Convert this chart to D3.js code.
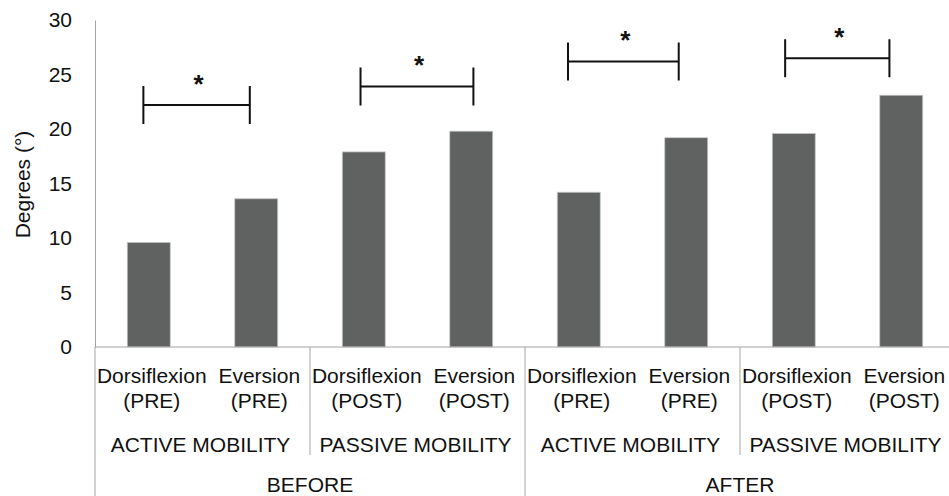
<!DOCTYPE html>
<html>
<head>
<meta charset="utf-8">
<script src="https://cdn.jsdelivr.net/npm/d3@7"></script>
<style>
  html, body { margin: 0; padding: 0; background: #fff; }
  svg { display: block; font-family: "Liberation Sans", Arial, sans-serif; }
</style>
</head>
<body>
<svg id="chart" width="949" height="496"></svg>
<script>
// Range of motion (degrees), one bar per measurement
const measures  = ["Dorsiflexion", "Eversion", "Dorsiflexion", "Eversion", "Dorsiflexion", "Eversion", "Dorsiflexion", "Eversion"];
const phases    = ["(PRE)", "(PRE)", "(POST)", "(POST)", "(PRE)", "(PRE)", "(POST)", "(POST)"];
const mobility  = ["ACTIVE MOBILITY", "PASSIVE MOBILITY", "ACTIVE MOBILITY", "PASSIVE MOBILITY"];
const periods   = ["BEFORE", "AFTER"];
const values    = [9.6, 13.6, 17.9, 19.8, 14.2, 19.2, 19.6, 23.1];
const yTicks    = [0, 5, 10, 15, 20, 25, 30];

// Significance brackets: span in bar-slot units and height in degrees
const sigFrom   = [0.45, 2.47, 4.40, 6.42];
const sigTo     = [1.44, 3.52, 5.43, 7.39];
const sigLevel  = [22.2, 23.9, 26.2, 26.5];
const sigMark   = ["*", "*", "*", "*"];

const svg = d3.select("#chart");
const margin = { left: 95, right: -6, top: 20, bottom: 149 };
const W = 949, H = 496;
const x0 = margin.left, x1 = W - margin.right;
const yBase = H - margin.bottom;
const fontSize = 21;

const keys = values.map((_, i) => i);
const x = d3.scaleBand().domain(keys).range([x0, x1]).paddingInner(0.6).paddingOuter(0.3);
const slot = d3.scaleLinear().domain([0, values.length]).range([x0, x1]);
const y = d3.scaleLinear().domain([0, 30]).range([yBase, margin.top]);

const axisColor = "#a6a6a6";
const textColor = "#111";

// Y axis (labels only, no tick marks)
const yAxis = d3.axisLeft(y).tickValues(yTicks).tickSize(0).tickPadding(23);
const gy = svg.append("g").attr("transform", `translate(${x0},0)`).call(yAxis);
gy.select(".domain").attr("stroke", axisColor).attr("stroke-width", 1);
gy.selectAll("text").attr("font-size", fontSize).attr("fill", textColor)
  .attr("font-family", "\"Liberation Sans\", Arial, sans-serif");

svg.append("text")
  .attr("transform", `translate(30,${(y(0) + y(30)) / 2 + 1}) rotate(-90)`)
  .attr("text-anchor", "middle")
  .attr("font-size", fontSize)
  .attr("fill", textColor)
  .text("Degrees (°)");

// Bars
svg.append("g").selectAll("rect").data(values).join("rect")
  .attr("x", (d, i) => x(i))
  .attr("y", d => y(d))
  .attr("width", x.bandwidth())
  .attr("height", d => y(0) - y(d))
  .attr("fill", "#606261")
  .attr("stroke", "#c9c9c9")
  .attr("stroke-width", 0.8);

// X axis baseline
svg.append("line")
  .attr("x1", x0).attr("x2", x1)
  .attr("y1", yBase).attr("y2", yBase)
  .attr("stroke", axisColor).attr("stroke-width", 1.2);

// Multi-level category separators
const perGroup = values.length / mobility.length;
const perPeriod = values.length / periods.length;
const seps = d3.range(0, values.length + 1, perGroup).map(i => ({
  i, full: i % perPeriod === 0
}));
svg.append("g").selectAll("line").data(seps).join("line")
  .attr("x1", d => slot(d.i)).attr("x2", d => slot(d.i))
  .attr("y1", yBase)
  .attr("y2", d => d.full ? H : yBase + 108)
  .attr("stroke", axisColor).attr("stroke-width", 1);

// Bar labels (two lines)
const lab = svg.append("g").attr("fill", textColor).attr("font-size", fontSize).attr("text-anchor", "middle");
lab.selectAll("text.m").data(measures).join("text").attr("class", "m")
  .attr("x", (d, i) => x(i) + x.bandwidth() / 2 + 3)
  .attr("y", yBase + 36)
  .text(d => d);
lab.selectAll("text.p").data(phases).join("text").attr("class", "p")
  .attr("x", (d, i) => x(i) + x.bandwidth() / 2 + 3)
  .attr("y", yBase + 61)
  .text(d => d);
lab.selectAll("text.g").data(mobility).join("text").attr("class", "g")
  .attr("x", (d, i) => slot(i * perGroup + perGroup / 2) - 2)
  .attr("y", yBase + 105)
  .text(d => d);
lab.selectAll("text.r").data(periods).join("text").attr("class", "r")
  .attr("x", (d, i) => slot(i * perPeriod + perPeriod / 2))
  .attr("y", yBase + 145)
  .text(d => d);

// Significance brackets
const sig = sigLevel.map((v, i) => ({ a: slot(sigFrom[i]), b: slot(sigTo[i]), y: y(v), mark: sigMark[i] }));
const gs = svg.append("g").attr("stroke", "#111").attr("stroke-width", 2).attr("fill", "none");
gs.selectAll("path").data(sig).join("path")
  .attr("d", d => `M${d.a},${d.y - 19}V${d.y + 19}M${d.a},${d.y}H${d.b}M${d.b},${d.y - 19}V${d.y + 19}`);
svg.append("g").selectAll("text").data(sig).join("text")
  .attr("x", d => (d.a + d.b) / 2 + 2)
  .attr("y", d => d.y - 12)
  .attr("text-anchor", "middle")
  .attr("font-size", 26)
  .attr("font-weight", "bold")
  .attr("fill", "#111")
  .text(d => d.mark);
</script>
</body>
</html>
